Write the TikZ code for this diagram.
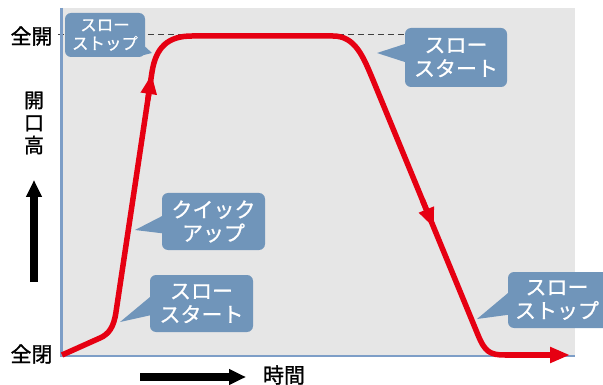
\documentclass[tikz,border=0pt]{standalone}
\usepackage{fontspec}
\newfontfamily\jp[FakeBold=1.2]{Noto Sans CJK JP}
\newfontfamily\jpw[FakeBold=0.8]{Noto Sans CJK JP}
\usetikzlibrary{arrows.meta}
\definecolor{plotgray}{RGB}{230,230,230}
\definecolor{axisblue}{RGB}{125,158,199}
\definecolor{callblue}{RGB}{112,149,186}
\definecolor{curvered}{RGB}{230,0,18}
\begin{document}
\begin{tikzpicture}[x=1pt,y=-1pt,
  redline/.style={draw=curvered,line width=5.5pt,line join=round},
  calloutbox/.style={fill=callblue,rounded corners=6pt},
  callouttail/.style={fill=callblue},
  calltext/.style={text=white,inner sep=0pt,align=center,font=\jpw\fontsize{21}{23.5}\selectfont},
  smalltext/.style={text=white,inner sep=0pt,align=center,font=\jpw\fontsize{16.5}{18.5}\selectfont},
  axislabel/.style={text=black,inner sep=0pt,align=center,font=\jp\fontsize{21}{23}\selectfont},
  blackarrow/.style={draw=black,line width=8pt,-{Triangle[length=17pt,width=15pt]}},
  redtip/.style={redline,-{Triangle[length=20pt,width=15pt]}}
]
\clip (0,0) rectangle (603,385);
% plot area
\fill[plotgray] (62,8) rectangle (575,356);
\draw[black!75,line width=1pt,dash pattern=on 6pt off 4pt] (58,35) -- (405,35);
\draw[axisblue,line width=2.2pt] (61.5,8) -- (61.5,356) -- (575,356);

% coordinates of the curve
\coordinate (c0) at (62,355);
\coordinate (c1) at (100,338);
\coordinate (c2) at (116,312);
\coordinate (c3) at (152,72);
\coordinate (c4) at (192,36);
\coordinate (c5) at (333,36);
\coordinate (c6) at (373,80);
\coordinate (c7) at (478,335);
\coordinate (c8) at (505,355);
\coordinate (c9) at (570,355);
\coordinate (u0) at (147.8,100);
\coordinate (u1) at (151.7,74);
\coordinate (d0) at (422.4,200);
\coordinate (d1) at (434,228);

\draw[redline] (c0) -- (c1) .. controls (109,334) and (113.8,327) .. (c2) -- (c3)
  .. controls (156,47) and (168,36) .. (c4) -- (c5)
  .. controls (355,36) and (363,56) .. (c6) -- (c7)
  .. controls (485,352) and (490,355) .. (c8);
\draw[redtip] (c8) -- (c9);
\draw[redtip] (u0) -- (u1);
\draw[redtip] (d0) -- (d1);

% callout 1
\fill[callouttail] (140,42) -- (152,53) -- (140,56) -- cycle;
\fill[calloutbox] (65,13) rectangle (145,57);
\node[smalltext] (t1) at (105,35) {スロー\\ストップ};
% callout 2
\fill[callouttail] (168,213) -- (135,230) -- (168,234) -- cycle;
\fill[calloutbox] (162,193) rectangle (265,250);
\node[calltext] (t2) at (213.5,221.5) {クイック\\アップ};
% callout 3
\fill[callouttail] (156,292) -- (120,322) -- (156,314) -- cycle;
\fill[calloutbox] (150,275) rectangle (253,332);
\node[calltext] (t3) at (201.5,303.5) {スロー\\スタート};
% callout 4
\fill[callouttail] (411,42) -- (377,53) -- (411,64) -- cycle;
\fill[calloutbox] (405,28) rectangle (507,87);
\node[calltext] (t4) at (456,57.5) {スロー\\スタート};
% callout 5
\fill[callouttail] (514,288) -- (477,319) -- (514,314) -- cycle;
\fill[calloutbox] (508,272) rectangle (614,328);
\node[calltext] (t5) at (557,300) {スロー\\ストップ};

% axis labels
\node[axislabel] (full) at (31.5,36) {全開};
\node[axislabel] (closed) at (31.5,354) {全閉};
\node[axislabel,font=\jp\fontsize{20}{22.5}\selectfont] (height) at (34,123) {開\\口\\高};
\node[axislabel] (time) at (284,375) {時間};
\coordinate (va0) at (34,282);
\coordinate (va1) at (34,180);
\coordinate (ha0) at (140,377);
\coordinate (ha1) at (246,377);
\draw[blackarrow] (va0) -- (va1);
\draw[blackarrow] (ha0) -- (ha1);
\end{tikzpicture}
\end{document}
